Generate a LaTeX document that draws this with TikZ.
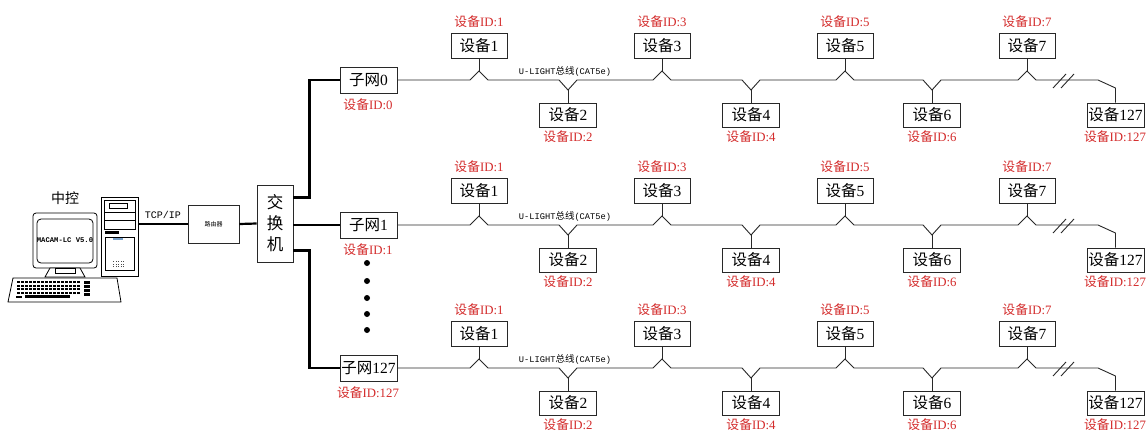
\documentclass[tikz,border=0pt]{standalone}
\usepackage{fontspec}
\setmainfont{Liberation Serif}
\newfontfamily\cjk{Noto Sans CJK SC}
\newfontfamily\mono{Liberation Mono}
\usetikzlibrary{calc}
\definecolor{idred}{RGB}{212,44,44}
\definecolor{linegray}{RGB}{40,40,40}
\definecolor{bayblue}{RGB}{120,160,200}
\newcommand\sbdev[1]{{\cjk 设备}#1}
\newcommand\sbid[1]{{\cjk 设备}ID:#1}

\begin{document}
\begin{tikzpicture}[x=1pt,y=-1pt,
  box/.style={draw=linegray, line width=0.9pt, fill=white, inner sep=0pt,
    minimum width=57pt, minimum height=25pt, font=\fontsize{15.5}{17}\selectfont},
  idlabel/.style={text=idred, inner sep=0pt, font=\fontsize{12.8}{14}\selectfont},
  bus/.style={draw=linegray, line width=0.9pt},
  trunk/.style={draw=black, line width=2.6pt},
  plain/.style={draw=black, line width=0.8pt}]
\useasboundingbox[fill=white] (0,0) rectangle (1147,432);

% ---------------- central control computer ----------------
\node[font=\cjk\fontsize{14}{15}\selectfont, inner sep=0pt] (ctrl) at (65,198) {中控};
% monitor
\draw[plain, fill=white, rounded corners=3pt] (33,213) rectangle (97,268);
\draw[plain, rounded corners=4pt] (37,219) rectangle (93,263);
\node[font=\mono\bfseries\fontsize{7.2}{8}\selectfont, inner sep=0pt] (screen) at (65,240) {MACAM-LC V5.0};
% stand
\draw[plain, fill=white] (50,268) -- (45,277) -- (85,277) -- (80,268) -- cycle;
\draw[plain] (55,268) rectangle (75,273);
% keyboard
\draw[plain, fill=white] (13,278) -- (117,278) -- (121,302) -- (8,302) -- cycle;
\foreach \ky in {281,284.5,288,291.5}{
  \foreach \kx in {17,21,...,77}{
    \fill[black] (\kx,\ky) rectangle ++(3,2.2);
  }
}
\fill[black] (25,295) rectangle (70,297.5);
\foreach \ky in {281,285,289,293}{
  \fill[black] (84,\ky) rectangle ++(6,2.5);
}
\fill[black] (16,295.5) rectangle (22,297.5);
% tower
\node[draw=black, line width=0.8pt, fill=white, minimum width=37pt, minimum height=79pt,
  inner sep=0pt] (pc) at (119.5,236.5) {};
\draw[plain] (109,203) rectangle (127,208);
\draw[plain] (104,212) -- (135,212);
\draw[plain] (104,220) -- (135,220);
\draw[plain] (104,200) -- (104,229) -- (135,229) -- (135,200) -- cycle;
\fill[black] (105,231) rectangle (119,233.5);
\fill[bayblue] (113,238) rectangle (123,240);
\draw[plain] (105,237) rectangle (134,270);
\foreach \gy in {261,263.5,266}{
  \foreach \gx in {113,115.5,...,123}{
    \fill[black!70] (\gx,\gy) rectangle ++(1,1);
  }
}

% ---------------- router and switch ----------------
\node[draw=linegray, line width=0.9pt, minimum width=51pt, minimum height=38pt, inner sep=0pt,
  font=\cjk\fontsize{6}{7}\selectfont] (rt) at (213.5,224) {路由器};
\node[draw=linegray, line width=0.9pt, minimum width=36pt, minimum height=77pt, inner sep=0pt,
  align=center, font=\cjk\fontsize{16.5}{21}\selectfont] (sw) at (275,223.5) {交\\换\\机};
\draw[draw=black, line width=1.8pt] (pc.east |- rt.west) -- (rt.west);
\node[font=\mono\fontsize{10}{11}\selectfont, inner sep=0pt] (tcp) at (163,215) {TCP/IP};
\draw[draw=black, line width=2.2pt] (rt.east) -- (sw.west);

% ---------------- subnets ----------------
\foreach \r/\B/\s in {0/80/0,1/225/1,2/368/127}{
  \node[box, minimum height=26pt] (sub\r) at (368.5,\B) {{\cjk 子网}\s};
  \node[idlabel] (subid\r) at (368,\B+25) {\sbid{\s}};
  % devices above the bus
  \foreach \k/\x in {1/479,3/662,5/845,7/1027}{
    \node[box, minimum width=56pt] (d\r-\k) at (\x,\B-34.5) {\sbdev{\k}};
    \node[idlabel] (id\r-\k) at (\x,\B-58) {\sbid{\k}};
    \coordinate (t\r-\k) at (\x,\B-9);
    \draw[bus] (d\r-\k.south) -- (t\r-\k);
  }
  % devices below the bus
  \foreach \k/\x in {2/568,4/751,6/932}{
    \node[box, minimum height=24pt] (d\r-\k) at (\x,\B+35) {\sbdev{\k}};
    \node[idlabel] (id\r-\k) at (\x,\B+56.5) {\sbid{\k}};
    \coordinate (b\r-\k) at (\x,\B+10);
    \draw[bus] (b\r-\k) -- (d\r-\k.north);
  }
  % last device
  \node[box, minimum height=24pt, inner sep=0pt] (d\r-127) at (1115.5,\B+35) {\sbdev{127}};
  \node[idlabel] (id\r-127) at (1115,\B+56.5) {\sbid{127}};
  \coordinate (k\r) at (1098,\B);
  \coordinate (e\r) at (1115.5,\B+8);
  % the bus
  \draw[bus] (sub\r.east)
    -- ($(t\r-1)+(-9,9)$) -- (t\r-1) -- ($(t\r-1)+(9,9)$)
    -- ($(b\r-2)+(-9,-10)$) -- (b\r-2) -- ($(b\r-2)+(9,-10)$)
    -- ($(t\r-3)+(-9,9)$) -- (t\r-3) -- ($(t\r-3)+(9,9)$)
    -- ($(b\r-4)+(-9,-10)$) -- (b\r-4) -- ($(b\r-4)+(9,-10)$)
    -- ($(t\r-5)+(-9,9)$) -- (t\r-5) -- ($(t\r-5)+(9,9)$)
    -- ($(b\r-6)+(-9,-10)$) -- (b\r-6) -- ($(b\r-6)+(9,-10)$)
    -- ($(t\r-7)+(-9,9)$) -- (t\r-7) -- ($(t\r-7)+(9,9)$)
    -- (k\r) -- (e\r) -- (d\r-127.north);
  % break marks
  \draw[bus] (1053,\B+8) -- (1066,\B-6);
  \draw[bus] (1061,\B+8) -- (1074,\B-6);
  % bus label
  \node[inner sep=0pt, font=\fontsize{8.7}{10}\selectfont] (bl\r) at (565,\B-9)
    {\mono U-LIGHT{\cjk\fontsize{9.5}{10}\selectfont 总线}(CAT5e)};
}

% ---------------- trunk lines from the switch ----------------
\coordinate (sw0) at ($(sw.north east)+(0,13)$);
\coordinate (sw2) at ($(sw.south east)+(0,-12)$);
\draw[trunk] (sw0) -- ++(16,0) |- (sub0.west);
\draw[trunk] (sw.east |- sub1.west) -- (sub1.west);
\draw[trunk] (sw2) -- ++(16,0) |- (sub2.west);

% ---------------- omitted subnets ----------------
\foreach \i/\y in {1/263,2/281,3/298,4/314,5/330}{
  \node[circle, fill=black, inner sep=0pt, minimum size=6pt] (dot\i) at (367,\y) {};
}
\end{tikzpicture}
\end{document}
